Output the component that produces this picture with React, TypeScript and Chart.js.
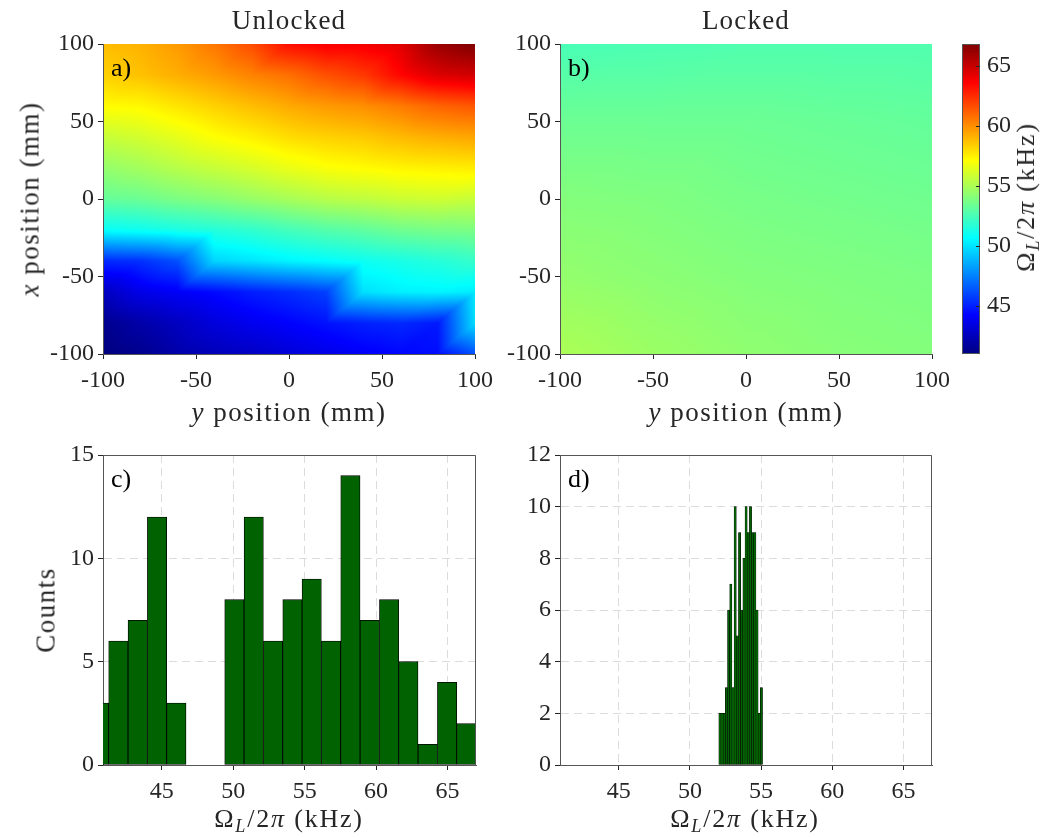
import React, { useEffect, useRef } from "react";
import { Chart, registerables } from "chart.js";

Chart.register(...registerables);

const FONT = "'Liberation Serif', 'Times New Roman', serif";
const TXT = "#262626";
const AXIS = "#555555";

// ---------- heatmap data ----------
// horizontal axis: y position (mm), columns
const Y_POSITIONS = [-100, -80, -60, -40, -20, 0, 20, 40, 60, 80, 100];
// vertical axis: x position (mm), rows from top to bottom
const X_POSITIONS = [100, 80, 60, 40, 20, 0, -20, -40, -60, -80, -100];

// Unlocked Omega_L/2pi (kHz)
const UNLOCKED: number[][] = [
  [58.8, 59.1, 59.7, 60.6, 61.7, 63.3, 63.8, 63.9, 64.4, 66.2, 66.85],
  [58.3, 58.7, 59.2, 59.7, 60.3, 60.8, 61.6, 62.2, 63.5, 64.5, 64.8],
  [57.2, 57.3, 57.8, 58.3, 58.8, 59.3, 59.7, 60.0, 60.5, 61.1, 61.4],
  [55.7, 56.0, 56.5, 57.1, 57.5, 58.0, 58.3, 58.5, 58.9, 59.2, 59.4],
  [54.4, 54.8, 55.3, 55.7, 56.1, 56.6, 57.0, 57.2, 57.4, 57.5, 57.6],
  [53.2, 53.4, 53.8, 54.1, 54.5, 54.9, 55.3, 55.5, 55.8, 55.9, 55.7],
  [50.8, 51.0, 51.3, 51.6, 51.9, 52.4, 52.8, 53.1, 53.5, 53.7, 53.8],
  [45.2, 45.4, 46.2, 49.6, 50.0, 50.4, 50.7, 51.0, 51.3, 51.6, 52.0],
  [42.6, 43.6, 44.0, 44.4, 44.9, 45.3, 45.8, 49.9, 50.3, 50.4, 50.2],
  [41.3, 42.0, 42.6, 43.3, 43.8, 44.2, 44.6, 45.0, 45.2, 44.8, 49.8],
  [40.9, 41.3, 42.0, 42.4, 42.7, 43.2, 43.6, 44.0, 44.3, 44.5, 46.2],
];

// Locked map (coarser read-out)
const LOCKED_Y_POSITIONS = [-100, -50, 0, 50, 100];
const LOCKED_X_POSITIONS = [100, 50, 0, -50, -100];
const LOCKED: number[][] = [
  [52.5, 52.6, 52.7, 52.7, 52.7],
  [53.4, 53.4, 53.4, 53.3, 53.2],
  [54.0, 53.9, 53.7, 53.6, 53.5],
  [54.4, 54.2, 54.0, 53.9, 53.8],
  [55.0, 54.6, 54.3, 54.1, 54.0],
];

const POS_TICKS = [-100, -50, 0, 50, 100];

// colour bar
const CBAR_MIN = 40.95;
const CBAR_MAX = 66.85;
const CBAR_TICKS = [45, 50, 55, 60, 65];

// ---------- histogram data ----------
const FREQ_MIN = 40.88;
const FREQ_MAX = 67.0;
const FREQ_TICKS = [45, 50, 55, 60, 65];

const C_EDGES = [
  39.93, 41.28, 42.63, 43.99, 45.34, 46.7, 48.05, 49.4, 50.76, 52.11, 53.47,
  54.82, 56.17, 57.53, 58.88, 60.24, 61.59, 62.94, 64.3, 65.65, 67.0,
];
const C_COUNTS = [3, 6, 7, 12, 3, 0, 0, 8, 12, 6, 8, 9, 6, 14, 7, 8, 5, 1, 4, 2];
const C_Y_TICKS = [0, 5, 10, 15];

const D_EDGES = [
  52.03, 52.184, 52.337, 52.491, 52.644, 52.798, 52.951, 53.105, 53.258,
  53.412, 53.565, 53.719, 53.872, 54.026, 54.179, 54.333, 54.486, 54.64,
  54.793, 54.947, 55.1,
];
const D_COUNTS = [2, 2, 2, 3, 6, 7, 3, 10, 5, 9, 6, 8, 10, 9, 10, 9, 9, 6, 2, 3];
const D_Y_TICKS = [0, 2, 4, 6, 8, 10, 12];

const BAR_GREEN = "#006200";

// ---------- helpers ----------
function jet(v: number): [number, number, number] {
  let t = (v - CBAR_MIN) / (CBAR_MAX - CBAR_MIN);
  t = Math.max(0, Math.min(1, t));
  const c = (x: number) => Math.max(0, Math.min(1, x));
  const r = c(Math.min(4 * t - 1.5, -4 * t + 4.5));
  const g = c(Math.min(4 * t - 0.5, -4 * t + 3.5));
  const b = c(Math.min(4 * t + 0.5, -4 * t + 2.5));
  return [Math.round(r * 255), Math.round(g * 255), Math.round(b * 255)];
}

function locate(arr: number[], v: number): [number, number] {
  const n = arr.length;
  for (let i = 0; i < n - 1; i++) {
    const a = arr[i];
    const b = arr[i + 1];
    const lo = Math.min(a, b);
    const hi = Math.max(a, b);
    if (v >= lo && v <= hi) return [i, (v - a) / (b - a)];
  }
  const asc = arr[n - 1] > arr[0];
  const below = asc ? v < arr[0] : v > arr[0];
  return below ? [0, 0] : [n - 2, 1];
}

function sampleGrid(grid: number[][], rows: number[], cols: number[], rowVal: number, colVal: number) {
  const [r, v] = locate(rows, rowVal);
  const [c, u] = locate(cols, colVal);
  const TL = grid[r][c];
  const TR = grid[r][c + 1];
  const BL = grid[r + 1][c];
  const BR = grid[r + 1][c + 1];
  if (u + v <= 1) return TL + u * (TR - TL) + v * (BL - TL);
  return BR + (1 - u) * (BL - BR) + (1 - v) * (TR - BR);
}

function heatPlugin(grid: number[][], rows: number[], cols: number[]) {
  return {
    id: "heat",
    beforeDraw(chart: any) {
      const { left, top, right, bottom } = chart.chartArea;
      const w = Math.round(right - left);
      const h = Math.round(bottom - top);
      const off = document.createElement("canvas");
      off.width = w;
      off.height = h;
      const octx = off.getContext("2d")!;
      const img = octx.createImageData(w, h);
      const xs = chart.scales.x;
      const ys = chart.scales.y;
      for (let py = 0; py < h; py++) {
        const rowVal = ys.getValueForPixel(top + ((py + 0.5) * (bottom - top)) / h);
        for (let px = 0; px < w; px++) {
          const colVal = xs.getValueForPixel(left + ((px + 0.5) * (right - left)) / w);
          const val = sampleGrid(grid, rows, cols, rowVal, colVal);
          const [r, g, b] = jet(val);
          const k = (py * w + px) * 4;
          img.data[k] = r;
          img.data[k + 1] = g;
          img.data[k + 2] = b;
          img.data[k + 3] = 255;
        }
      }
      octx.putImageData(img, 0, 0);
      chart.ctx.drawImage(off, left, top, right - left, bottom - top);
    },
  };
}

const cbarPlugin = {
  id: "cbar",
  beforeDraw(chart: any) {
    const { left, top, right, bottom } = chart.chartArea;
    const ys = chart.scales.y;
    const ctx = chart.ctx;
    for (let py = Math.floor(top); py < Math.ceil(bottom); py++) {
      const v = ys.getValueForPixel(py + 0.5);
      const [r, g, b] = jet(v);
      ctx.fillStyle = `rgb(${r},${g},${b})`;
      ctx.fillRect(left, py, right - left, 1);
    }
  },
  afterDraw(chart: any) {
    const { left, top, right, bottom } = chart.chartArea;
    const ys = chart.scales.y;
    const ctx = chart.ctx;
    ctx.save();
    ctx.strokeStyle = AXIS;
    ctx.lineWidth = 1;
    ctx.strokeRect(left + 0.5, top + 0.5, right - left - 1, bottom - top - 1);
    ctx.strokeStyle = TXT;
    CBAR_TICKS.forEach((t) => {
      const y = Math.round(ys.getPixelForValue(t)) + 0.5;
      ctx.beginPath();
      ctx.moveTo(right - 4, y);
      ctx.lineTo(right, y);
      ctx.stroke();
    });
    ctx.restore();
  },
};

const boxPlugin = {
  id: "box",
  afterDraw(chart: any) {
    const { left, top, right, bottom } = chart.chartArea;
    const ctx = chart.ctx;
    ctx.save();
    ctx.strokeStyle = AXIS;
    ctx.lineWidth = 1;
    ctx.beginPath();
    ctx.moveTo(left, top + 0.5);
    ctx.lineTo(right - 0.5, top + 0.5);
    ctx.lineTo(right - 0.5, bottom);
    ctx.stroke();
    ctx.restore();
  },
};

const tickFont = { family: FONT, size: 24 };

function fixedTicks(values: number[]) {
  return (s: any) => {
    s.ticks = values.map((v) => ({ value: v }));
  };
}

function heatConfig(grid: number[][], rows: number[], cols: number[], yWidth: number, padRight: number) {
  return {
    type: "scatter",
    data: { datasets: [{ data: [] as any[] }] },
    options: {
      animation: false,
      responsive: false,
      maintainAspectRatio: false,
      events: [],
      layout: { padding: { left: 0, top: 44, right: padRight, bottom: 0 } },
      plugins: { legend: { display: false }, tooltip: { enabled: false } },
      scales: {
        x: {
          type: "linear",
          min: -100,
          max: 100,
          afterBuildTicks: fixedTicks(POS_TICKS),
          afterFit: (s: any) => {
            s.height = 76;
          },
          grid: { drawOnChartArea: false, drawTicks: true, tickLength: 5, tickColor: TXT, color: TXT },
          border: { display: true, color: AXIS, width: 1 },
          ticks: { font: tickFont, color: TXT, padding: 7, maxRotation: 0, autoSkip: false },
        },
        y: {
          type: "linear",
          min: -100,
          max: 100,
          afterBuildTicks: fixedTicks(POS_TICKS),
          afterFit: (s: any) => {
            s.width = yWidth;
          },
          grid: { drawOnChartArea: false, drawTicks: true, tickLength: 5, tickColor: TXT, color: TXT },
          border: { display: true, color: AXIS, width: 1 },
          ticks: { font: tickFont, color: TXT, padding: 4, autoSkip: false },
        },
      },
    },
    plugins: [heatPlugin(grid, rows, cols)],
  };
}

function histConfig(edges: number[], counts: number[], yMax: number, yTicks: number[], yWidth: number, padRight: number, bw: number) {
  const pts = counts.map((c, i) => ({ x: (edges[i] + edges[i + 1]) / 2, y: c }));
  return {
    type: "bar",
    data: {
      datasets: [
        {
          data: pts,
          backgroundColor: BAR_GREEN,
          borderColor: "#000000",
          borderWidth: bw,
          borderSkipped: false,
          barPercentage: 1,
          categoryPercentage: 1,
        },
      ],
    },
    options: {
      animation: false,
      responsive: false,
      maintainAspectRatio: false,
      events: [],
      layout: { padding: { left: 0, top: 25, right: padRight, bottom: 0 } },
      plugins: { legend: { display: false }, tooltip: { enabled: false } },
      scales: {
        x: {
          type: "linear",
          min: FREQ_MIN,
          max: FREQ_MAX,
          offset: false,
          afterBuildTicks: fixedTicks(FREQ_TICKS),
          afterFit: (s: any) => {
            s.height = 74;
          },
          grid: {
            offset: false,
            drawOnChartArea: true,
            drawTicks: true,
            tickLength: 5,
            tickColor: TXT,
            color: "#dcdcdc",
            tickBorderDash: [],
          },
          border: { display: true, color: AXIS, width: 1, dash: [8, 5] },
          ticks: { font: tickFont, color: TXT, padding: 7, maxRotation: 0, autoSkip: false },
        },
        y: {
          type: "linear",
          min: 0,
          max: yMax,
          afterBuildTicks: fixedTicks(yTicks),
          afterFit: (s: any) => {
            s.width = yWidth;
          },
          grid: {
            drawOnChartArea: true,
            drawTicks: true,
            tickLength: 5,
            tickColor: TXT,
            color: "#dcdcdc",
            tickBorderDash: [],
          },
          border: { display: true, color: AXIS, width: 1, dash: [8, 5] },
          ticks: { font: tickFont, color: TXT, padding: 4, autoSkip: false },
        },
      },
    },
    plugins: [boxPlugin],
  };
}

function cbarConfig() {
  return {
    type: "scatter",
    data: { datasets: [] as any[] },
    options: {
      animation: false,
      responsive: false,
      maintainAspectRatio: false,
      events: [],
      layout: { padding: { left: 22, top: 44, right: 0, bottom: 76 } },
      plugins: { legend: { display: false }, tooltip: { enabled: false } },
      scales: {
        x: { type: "linear", display: false, min: 0, max: 1 },
        y: {
          type: "linear",
          position: "right",
          min: CBAR_MIN,
          max: CBAR_MAX,
          afterBuildTicks: fixedTicks(CBAR_TICKS),
          afterFit: (s: any) => {
            s.width = 60;
          },
          grid: { drawOnChartArea: false, drawTicks: false },
          border: { display: false },
          ticks: { font: tickFont, color: TXT, padding: 7, autoSkip: false },
        },
      },
    },
    plugins: [cbarPlugin],
  };
}

function ChartCanvas({ config, left, top, width, height }: any) {
  const ref = useRef<HTMLCanvasElement | null>(null);
  useEffect(() => {
    if (!ref.current) return;
    const chart = new Chart(ref.current, config);
    return () => chart.destroy();
  }, []);
  return (
    <canvas
      ref={ref}
      width={width}
      height={height}
      style={{ position: "absolute", left, top, width, height }}
    />
  );
}

function Label({ x, y, size = 27, spacing = 1.5, rotate = false, children }: any) {
  return (
    <div
      style={{
        position: "absolute",
        left: x,
        top: y,
        transform: `translate(-50%, -50%)${rotate ? " rotate(-90deg)" : ""}`,
        fontFamily: FONT,
        fontSize: size,
        letterSpacing: spacing,
        color: TXT,
        whiteSpace: "nowrap",
        lineHeight: 1,
      }}
    >
      {children}
    </div>
  );
}

function Omega() {
  return (
    <span>
      Ω
      <span style={{ fontStyle: "italic", fontSize: "0.7em", position: "relative", top: "0.3em" }}>L</span>
      /2<span style={{ fontStyle: "italic" }}>π</span> (kHz)
    </span>
  );
}

function Letter({ x, y, children }: any) {
  return (
    <div
      style={{
        position: "absolute",
        left: x,
        top: y,
        fontFamily: FONT,
        fontSize: 26,
        color: "#000",
        lineHeight: 1,
      }}
    >
      {children}
    </div>
  );
}

export default function App() {
  return (
    <div
      style={{
        position: "fixed",
        left: 0,
        top: 0,
        width: 1040,
        height: 839,
        background: "#ffffff",
        overflow: "hidden",
      }}
    >
      <ChartCanvas config={heatConfig(UNLOCKED, X_POSITIONS, Y_POSITIONS, 103, 24)} left={0} top={0} width={500} height={430} />
      <ChartCanvas
        config={heatConfig(LOCKED, LOCKED_X_POSITIONS, LOCKED_Y_POSITIONS, 110, 28)}
        left={450}
        top={0}
        width={510}
        height={430}
      />
      <ChartCanvas config={cbarConfig()} left={940} top={0} width={100} height={430} />
      <ChartCanvas config={histConfig(C_EDGES, C_COUNTS, 15, C_Y_TICKS, 103, 24, 0.8)} left={0} top={430} width={500} height={409} />
      <ChartCanvas config={histConfig(D_EDGES, D_COUNTS, 12, D_Y_TICKS, 110, 28, 0.5)} left={450} top={430} width={510} height={409} />

      <Label x={289} y={20} size={27} spacing={1.2}>Unlocked</Label>
      <Label x={746} y={20} size={27} spacing={1.2}>Locked</Label>
      <Label x={30} y={199} rotate>
        <i>x</i> position (mm)
      </Label>
      <Label x={289} y={412}>
        <i>y</i> position (mm)
      </Label>
      <Label x={746} y={412}>
        <i>y</i> position (mm)
      </Label>
      <Label x={1026} y={197} rotate size={26} spacing={1.8}>
        <Omega />
      </Label>
      <Label x={46} y={610} rotate>
        Counts
      </Label>
      <Label x={289} y={819} size={26} spacing={1.8}>
        <Omega />
      </Label>
      <Label x={745} y={819} size={26} spacing={1.8}>
        <Omega />
      </Label>

      <Letter x={111} y={55}>a)</Letter>
      <Letter x={568} y={55}>b)</Letter>
      <Letter x={111} y={466}>c)</Letter>
      <Letter x={568} y={466}>d)</Letter>
    </div>
  );
}
